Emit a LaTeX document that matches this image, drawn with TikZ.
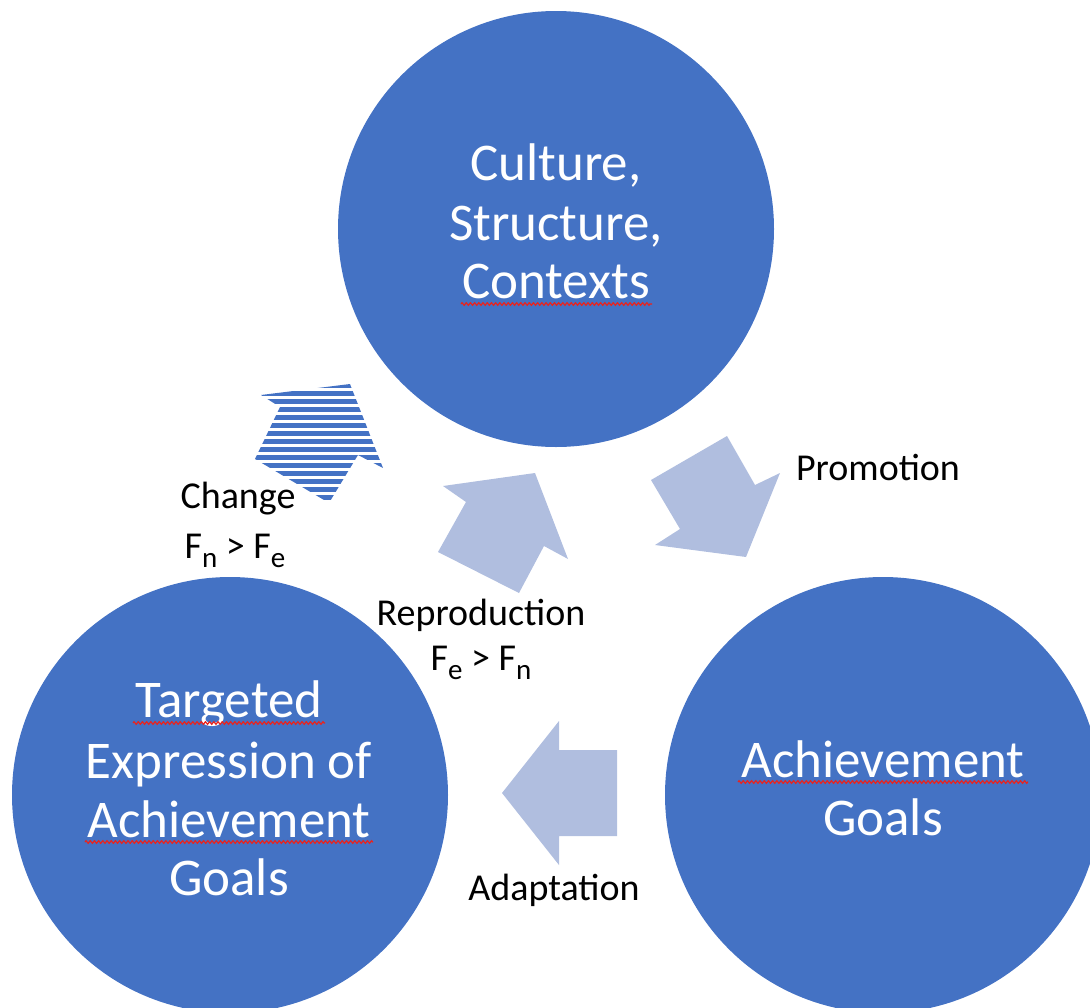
\documentclass[tikz,border=0pt]{standalone}
\usepackage{fontspec}
\setmainfont{Carlito}
\usetikzlibrary{decorations.pathmorphing}
\definecolor{discblue}{HTML}{4472C4}
\definecolor{arrowblue}{HTML}{B0BEDF}
\definecolor{spellred}{HTML}{E8231E}
% lowered subscript letter for the force labels
\newcommand{\forcesub}[1]{\raisebox{-0.24em}{\fontsize{29}{29}\selectfont #1}}
\tikzset{
  disc/.style={circle, fill=discblue, draw=none, minimum size=436pt, inner sep=0pt},
  bigtext/.style={text=white, font=\fontsize{53}{59}\selectfont, anchor=base, inner sep=0pt},
  labeltext/.style={text=black, font=\fontsize{38}{45}\selectfont, anchor=base, inner sep=0pt},
  blockarrow/.style={fill=arrowblue, draw=none},
  squiggle/.style={draw=spellred, line width=1.2pt, decorate,
    decoration={zigzag, segment length=4.2pt, amplitude=1.3pt}}
}
\begin{document}
\begin{tikzpicture}[x=1pt, y=-1pt]
\useasboundingbox (0,0) rectangle (1090,1007);
\clip (0,0) rectangle (1090,1007);

% the three discs
\node[disc] (top) at (556,229) {};
\node[disc] (left) at (230,795) {};
\node[disc] (right) at (883,795) {};

% block arrows between the discs
\fill[blockarrow] (651,480) -- (727,436) -- (755,485) -- (780,473)
  -- (746,557) -- (655,545) -- (680,529) -- cycle;
\fill[blockarrow] (443,486) -- (535,473) -- (568,559) -- (544,546)
  -- (519,593) -- (438,552) -- (466,502) -- cycle;
\fill[blockarrow] (502,793) -- (559,721) -- (559,750) -- (617,750)
  -- (617,836) -- (559,836) -- (559,865) -- cycle;

% striped arrow for change
\begin{scope}
  \clip (261,395) -- (350,384) -- (383,468) -- (358,455)
    -- (329,503) -- (255,459) -- (280,407) -- cycle;
  \foreach \yy in {385.5,393.5,...,505} {
    \fill[discblue] (240,\yy-2.1) rectangle (400,\yy+2.1);
  }
\end{scope}

% disc captions
\node[bigtext] (t1) at (556,180) {Culture,};
\node[bigtext] (t2) at (556,240) {Structure,};
\node[bigtext] (t3) at (556,298) {Contexts};

\node[bigtext] (l1) at (229,717) {Targeted};
\node[bigtext] (l2) at (229,778) {Expression of};
\node[bigtext] (l3) at (229,837) {Achievement};
\node[bigtext] (l4) at (229,895) {Goals};

\node[bigtext] (r1) at (883,777) {Achievement};
\node[bigtext] (r2) at (883,835) {Goals};

% spelling marks under some words
\draw[squiggle] (461,304) -- (652,304);
\draw[squiggle] (133,723) -- (325,723);
\draw[squiggle] (85,842) -- (373,842);
\draw[squiggle] (738,782) -- (1028,782);

% arrow labels
\node[labeltext] (promo) at (878,480) {Promotion};
\node[labeltext] (chg) at (238,508) {Change};
\node[labeltext] (chgf) at (235,558) {F\forcesub{n} > F\forcesub{e}};
\node[labeltext] (repro) at (481,625) {Reproduction};
\node[labeltext] (reprof) at (481,670) {F\forcesub{e} > F\forcesub{n}};
\node[labeltext] (adapt) at (554,900) {Adaptation};
\end{tikzpicture}
\end{document}
